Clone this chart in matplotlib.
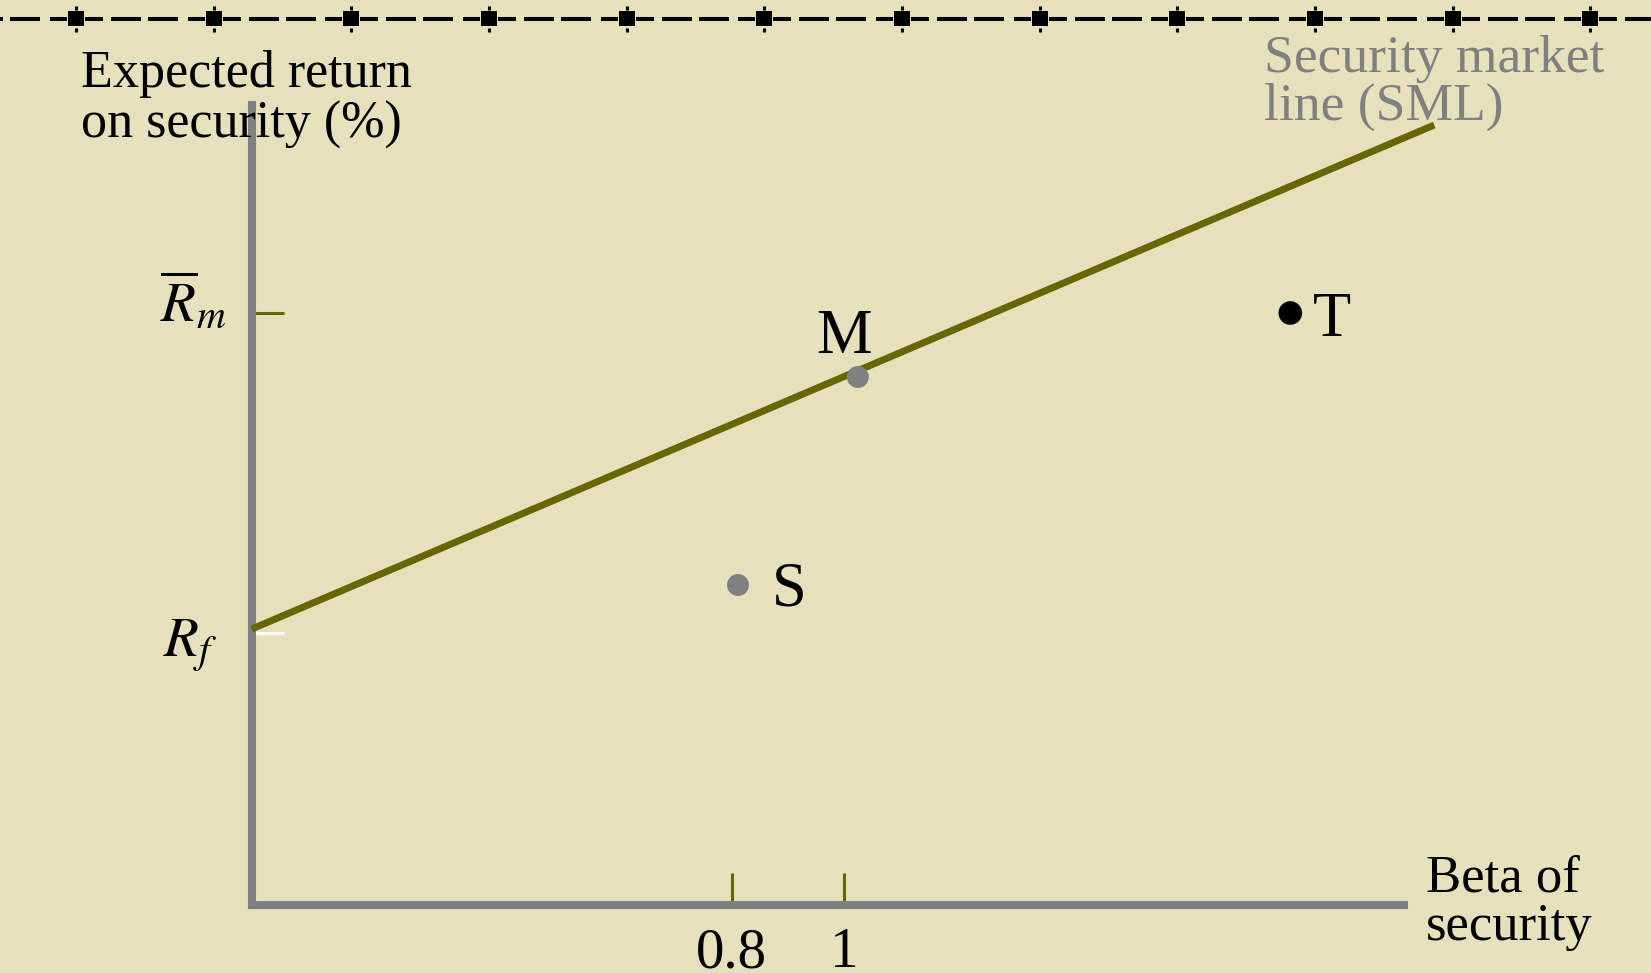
import numpy as np
import matplotlib.pyplot as plt
from matplotlib.patches import Rectangle

plt.rcParams['font.family'] = ['Liberation Serif', 'DejaVu Serif']
plt.rcParams['mathtext.fontset'] = 'stix'

# --- Data (schematic CAPM picture) ---
sml_beta = [-0.057, 2.054]      # security market line end points
sml_return = [6.9, 19.5]
rf = 6.8                        # risk-free rate
rm = 14.8                       # expected market return
beta_ticks = [0.8, 1.0]
beta_labels = ['0.8', '1']
point_names = ['M', 'S', 'T']
point_beta = [1.025, 0.811, 1.797]
point_return = [13.2, 8.0, 14.8]
point_colors = ['#808080', '#808080', 'black']

BG = '#e7e0bd'
OLIVE = '#666600'
GRAY = '#808080'

W, H = 1651, 973
fig = plt.figure(figsize=(W / 100, H / 100), dpi=100, facecolor=BG)


def fpos(x, y):
    """pixel position -> figure fraction"""
    return x / W, 1 - y / H


def text_lines(x, baselines, lines, **kw):
    for y, s in zip(baselines, lines):
        fig.text(*fpos(x, y), s, ha='left', va='baseline', **kw)


# --- Main axes ---
ax = fig.add_axes([252 / W, 68 / H, 1152 / W, 800 / H])
ax.set_facecolor('none')
ax.set_xlim(-0.0566, 2.0)
ax.set_ylim(0, 20)

for side in ['top', 'right']:
    ax.spines[side].set_visible(False)
for side in ['left', 'bottom']:
    ax.spines[side].set_color(GRAY)
    ax.spines[side].set_linewidth(5.8)
    ax.spines[side].set_capstyle('projecting')

ax.set_xticks(beta_ticks, beta_labels)
ax.tick_params(axis='x', direction='in', length=23, width=2.2, color=OLIVE,
               labelsize=41, pad=16)
ax.set_yticks([rf, rm])
ax.tick_params(axis='y', direction='in', length=23, width=2.2, labelleft=False)
ytk = ax.yaxis.get_major_ticks()
ytk[0].tick1line.set_markeredgecolor('white')
ytk[1].tick1line.set_markeredgecolor(OLIVE)

# security market line
ax.plot(sml_beta, sml_return, color=OLIVE, lw=5, solid_capstyle='butt',
        clip_on=False, zorder=3)

# securities
sizes = [15.8, 15.8, 17]
ax.scatter(point_beta, point_return, s=np.array(sizes) ** 2,
           c=point_colors, edgecolors='none', zorder=4, clip_on=False)
offsets = {'M': ((-14, 24), 'center'), 'S': ((34, -21), 'left'),
           'T': ((23, -23), 'left')}
for name, b, r in zip(point_names, point_beta, point_return):
    off, ha = offsets[name]
    ax.annotate(name, (b, r), xytext=off, textcoords='offset pixels',
                ha=ha, va='baseline', fontsize=45, color='black')

# return labels on the y axis
ax.annotate(r'$\overline{R}_m$', (0, rm), xycoords=('axes fraction', 'data'),
            xytext=(-25, -7), textcoords='offset pixels',
            ha='right', va='baseline', fontsize=41)
ax.annotate(r'$R_f$', (0, rf), xycoords=('axes fraction', 'data'),
            xytext=(-35, -24), textcoords='offset pixels',
            ha='right', va='baseline', fontsize=41)

# axis titles and line label
text_lines(81, [87, 138], ['Expected return', 'on security (%)'],
           fontsize=37.5)
text_lines(1264, [72, 120], ['Security market', 'line (SML)'],
           fontsize=38.5, color=GRAY)
text_lines(1426, [892, 940], ['Beta of', 'security'], fontsize=38)

# --- Dashed ornament along the top edge ---
deco = fig.add_axes([0, 0, 1, 1], zorder=5)
deco.set_xlim(0, W)
deco.set_ylim(H, 0)
deco.axis('off')
deco.patch.set_alpha(0)
y0 = 18.7
step = 137.7
first = 75.8
for k in range(-1, 12):
    c = first + step * k
    for a, b in [(c + 35, c + 65), (c + 72, c + 102)]:
        deco.hlines(y0, max(a, 0), min(b, W), color='black', lw=2.9)
    if k >= 0:
        for a, b in [(c - 26, c - 9), (c + 9, c + 27)]:
            deco.hlines(y0, a, b, color='black', lw=2.9)
        deco.add_patch(Rectangle((c - 8, 11), 16, 15, color='black', lw=0))
        deco.vlines(c, 6, 9.5, color='black', lw=2.2)
        deco.vlines(c, 28, 32, color='black', lw=2.2)

fig.savefig('out.png', dpi=100, facecolor=BG)
